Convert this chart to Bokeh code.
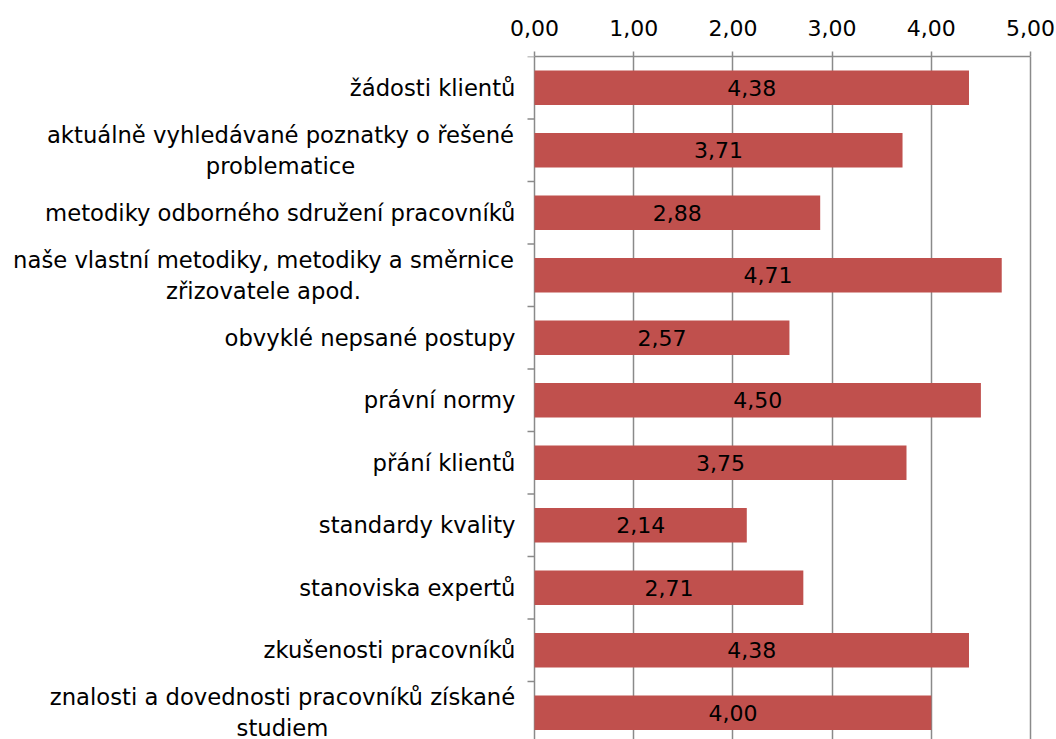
import numpy as np
from bokeh.plotting import figure
from bokeh.models import Range1d, FixedTicker, ColumnDataSource, CustomJSTickFormatter
from bokeh.core.properties import value
from bokeh.embed import file_html
from bokeh.resources import INLINE

categories = [
    "žádosti klientů",
    "aktuálně vyhledávané poznatky o řešené\nproblematice",
    "metodiky odborného sdružení pracovníků",
    "naše vlastní metodiky, metodiky a směrnice\nzřizovatele apod.",
    "obvyklé nepsané postupy",
    "právní normy",
    "přání klientů",
    "standardy kvality",
    "stanoviska expertů",
    "zkušenosti pracovníků",
    "znalosti a dovednosti pracovníků získané\nstudiem",
]
values = [4.38, 3.71, 2.88, 4.71, 2.57, 4.50, 3.75, 2.14, 2.71, 4.38, 4.00]
x_ticks = [0, 1, 2, 3, 4, 5]

FONT = "DejaVu Sans"
FS = "22px"
CAT_FS = "22.7px"
BAR = "#C0504D"
GRAY = "#8A8A8A"

# layout (pixels)
W, H = 1056, 739
AX_X = 534          # pixel position of value 0
PX_PER_UNIT = 99.2  # pixels per one unit of value
TOP = 56            # pixel position of the top axis
ROW_PX = 62.5       # height of one category row

rows = [i + 0.5 for i in range(len(categories))]
bounds = list(range(len(categories) + 1))
labels = [f"{v:.2f}".replace(".", ",") for v in values]
src = ColumnDataSource(dict(y=rows, v=values, half=[v / 2 for v in values], lab=labels))

single = [i for i, c in enumerate(categories) if "\n" not in c]
multi = [i for i, c in enumerate(categories) if "\n" in c]
multi_offsets = {1: -254, 3: -271, 10: -252}   # block centres relative to the axis (px)
src_single = ColumnDataSource(dict(y=[rows[i] for i in single], t=[categories[i] for i in single]))
src_multi = ColumnDataSource(dict(y=[rows[i] for i in multi], t=[categories[i] for i in multi],
                                  xo=[multi_offsets[i] for i in multi]))

x_start = -AX_X / PX_PER_UNIT
x_end = (W - AX_X) / PX_PER_UNIT
y_bottom = (H - TOP) / ROW_PX

p = figure(width=W, height=H, output_backend="svg", toolbar_location=None,
           x_range=Range1d(x_start, x_end), y_range=Range1d(y_bottom, 0),
           x_axis_location="above", y_axis_location=None,
           min_border_left=0, min_border_right=0, min_border_top=TOP, min_border_bottom=0)
p.outline_line_color = None
p.background_fill_color = "white"
p.border_fill_color = "white"

p.xgrid.grid_line_color = GRAY
p.xgrid.grid_line_width = 1.5
p.ygrid.grid_line_color = None

p.hbar(y="y", right="v", left=0, height=0.55, source=src, fill_color=BAR, line_color=None)
p.text(x="half", y="y", text="lab", source=src, text_align="center", text_baseline="middle",
       text_font=value(FONT), text_font_size=FS, text_color="black")

# category axis ticks (between categories, pointing left)
p.ray(x=0, y=bounds, length=7, length_units="screen", angle=np.pi,
      line_color=GRAY, line_width=1.5)

# category labels
p.text(x=0, y="y", text="t", source=src_single, x_offset=-19, text_align="right",
       text_baseline="middle", text_font=value(FONT), text_font_size=CAT_FS, text_color="black")
p.text(x=0, y="y", text="t", source=src_multi, x_offset="xo", text_align="center",
       text_baseline="middle", text_font=value(FONT), text_font_size=CAT_FS, text_color="black",
       text_line_height=1.2)

xa = p.xaxis[0]
xa.bounds = (0, 5)
xa.ticker = FixedTicker(ticks=x_ticks)
xa.formatter = CustomJSTickFormatter(code="return tick.toFixed(2).replace('.', ',');")
xa.major_label_text_font = FONT
xa.major_label_text_font_size = FS
xa.major_label_text_color = "black"
xa.major_label_standoff = 16
xa.major_tick_out = 5
xa.major_tick_in = 0
xa.minor_tick_out = 0
xa.minor_tick_in = 0
xa.axis_line_color = GRAY
xa.axis_line_width = 1.5
xa.major_tick_line_color = GRAY
xa.major_tick_line_width = 1.5

open("out.html", "w").write(file_html(p, INLINE))
